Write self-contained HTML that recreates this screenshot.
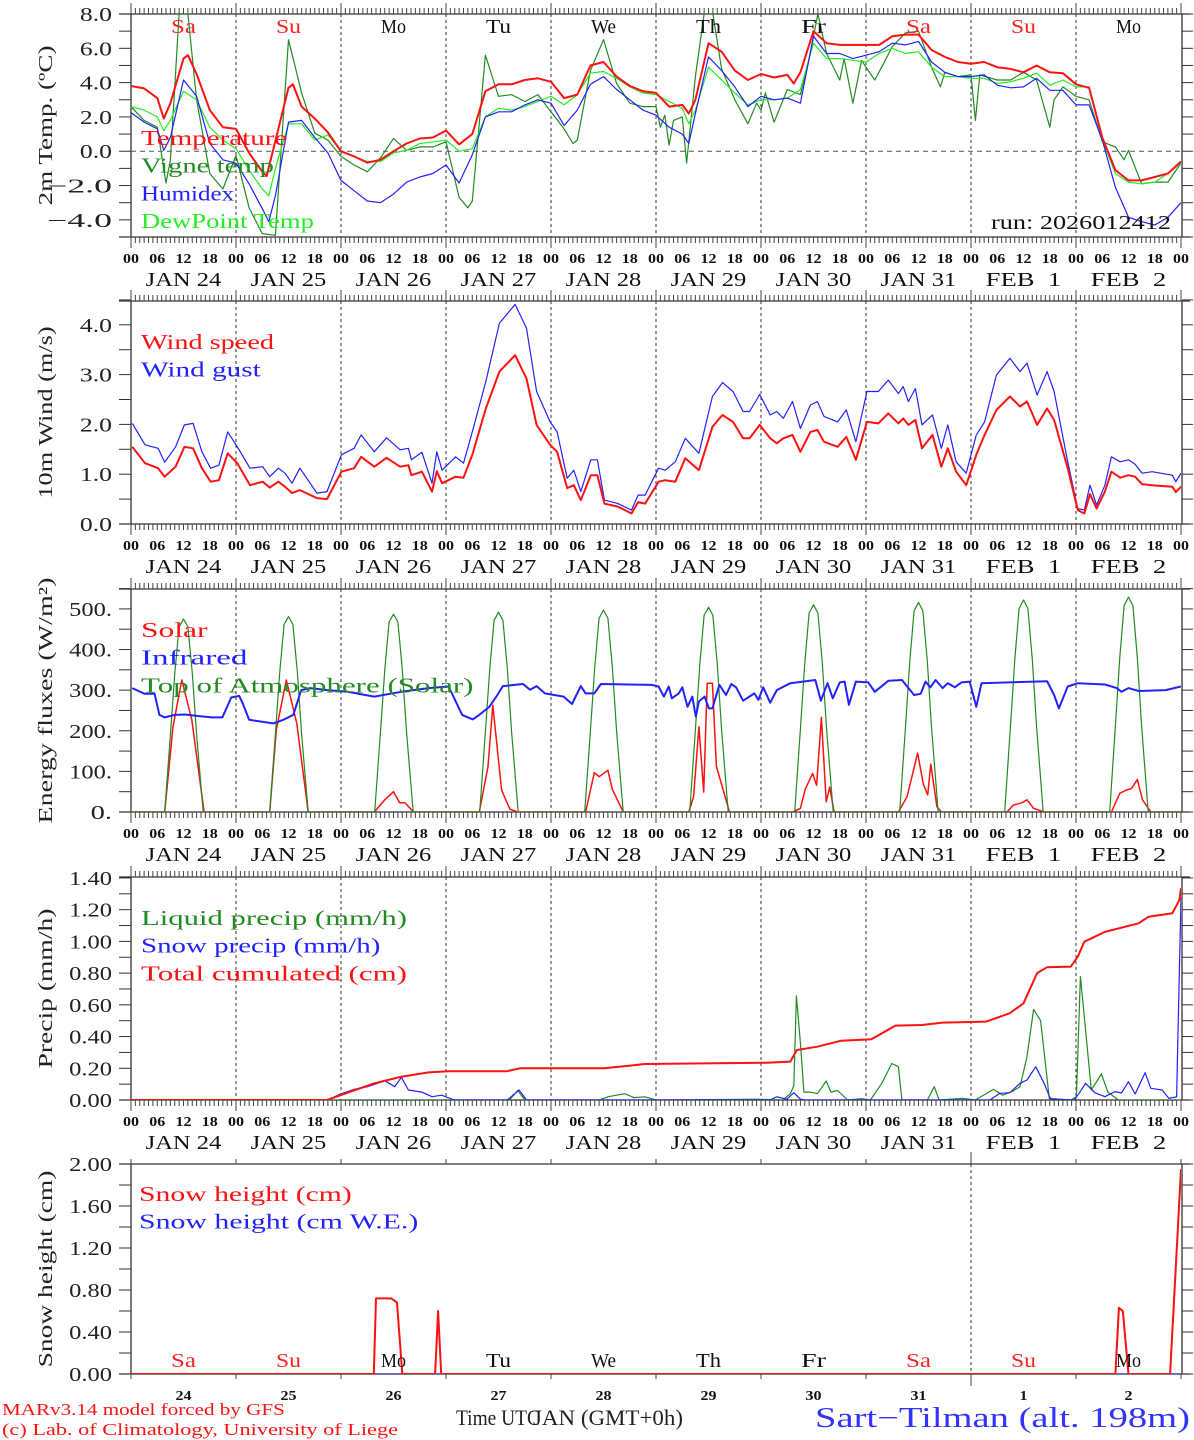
<!DOCTYPE html>
<html><head><meta charset="utf-8"><title>MAR forecast Sart-Tilman</title>
<style>
html,body{margin:0;padding:0;background:#fff;}
svg{display:block;font-family:"Liberation Serif","DejaVu Serif",serif;}
</style></head>
<body>
<svg id="chart" xmlns="http://www.w3.org/2000/svg" width="1194" height="1440" viewBox="0 0 1194 1440"></svg>
<script>
// ---------------- DATA ----------------
const dayLabels = ["JAN 24","JAN 25","JAN 26","JAN 27","JAN 28","JAN 29","JAN 30","JAN 31","FEB  1","FEB  2"];
const dayShort = ["24","25","26","27","28","29","30","31","1","2"];
const weekdays = ["Sa","Su","Mo","Tu","We","Th","Fr","Sa","Su","Mo"];
const hourLabels = ["00","06","12","18"];

const tempHours = [0,3,6,7.5,9,12,13,15,18,21,24,27,30,31,33,36,37,39,42,45,48,51,54,57,60,63,66,69,72,75,78,81,84,87,90,93,96,99,102,105,108,111,114,117,120,123,126,127.5,129,132,135,138,141,144,147,150,151.5,153,156,159,162,165,168,171,174,177,180,183,186,189,192,195,198,201,204,207,210,213,216,219,222,225,228,231,234,237,240];
const tempValues = [3.8,3.66,3.1,1.9,2.8,5.4,5.6,4.5,2.4,1.4,1.3,-0.1,-1.2,-1.45,0.6,3.7,3.9,2.6,1.9,1.1,0,-0.3,-0.66,-0.5,0,0.45,0.74,0.8,1.2,0.4,1.0,3.5,3.9,3.9,4.15,4.25,4.05,3.1,3.3,5.0,5.2,4.35,3.8,3.5,3.4,2.6,2.7,2.2,3.0,6.3,5.8,4.7,4.15,4.5,4.3,4.45,3.95,4.6,7.0,6.3,6.2,6.2,6.2,6.2,6.7,6.8,6.8,5.9,5.5,5.2,5.1,5.2,4.9,4.8,4.6,5.0,4.6,4.55,3.9,3.7,0.8,-1.1,-1.7,-1.7,-1.5,-1.3,-0.6];

const vigneHours = [0,3,6,8,9,11,13,15,18,21,24,27,30,33,36,39,42,45,48,51,54,57,60,63,66,69,72,75,77,78,81,84,87,90,93,96,99,101,102,105,108,111,114,117,120,121,122,123,124,126,127,129,131,133,135,138,141,143,144,145,147,150,153,155,157,159,162,163,165,167,168,170,172,174,177,180,183,185,186,189,192,193,194,198,201,204,207,210,211,213,216,219,222,225,227,228,231,234,237,240];
const vigneValues = [2.6,1.8,1.4,-1.85,-0.5,8.0,8.0,3.0,-1.3,-2.2,-0.25,-3.3,-4.8,-4.9,6.5,3.4,1.05,0.65,-0.3,-0.8,-1.2,-0.4,0.75,0.05,0.25,0.25,0.55,-2.7,-3.3,-2.9,5.6,3.2,3.3,2.9,3.3,2.3,1.3,0.45,0.65,4.7,6.5,3.95,2.8,2.6,2.6,1.4,2.1,0.35,1.8,2.0,-0.7,4.35,8.0,8.0,4.8,3.0,1.6,2.8,2.4,3.4,1.7,3.6,3.3,5.4,8.0,5.7,4.15,5.4,2.8,5.3,4.9,4.15,5.1,6.1,6.9,7.0,4.9,3.75,4.6,4.35,4.45,1.8,4.45,4.15,4.15,4.6,4.15,1.4,3.0,3.75,3.2,3.0,0.55,0.25,-0.5,0.05,-1.9,-1.8,-1.8,-0.7];

const gridHours = [0,3,6,7.5,9,12,15,18,21,24,27,30,31.5,33,36,39,42,45,48,51,54,57,60,63,66,69,72,75,78,81,84,87,90,93,96,99,102,105,108,111,114,117,120,123,126,127.5,129,132,135,138,141,144,147,150,153,156,159,162,165,168,171,174,177,180,183,186,189,192,195,198,201,204,207,210,213,216,219,222,225,228,231,234,237,240];
const humidexValues = [2.25,1.7,1.3,0.05,0.8,4.15,3.2,0.45,-0.5,-0.7,-1.9,-3.35,-4.1,-2.6,1.7,1.8,0.8,-0.1,-1.7,-2.3,-2.9,-3.0,-2.5,-1.8,-1.5,-1.3,-0.8,-1.85,-0.2,2.0,2.3,2.3,2.7,3.0,2.8,1.5,2.4,3.9,4.35,3.6,3.0,2.4,2.1,1.4,1.0,0.45,2.2,5.5,4.7,3.75,2.6,3.2,3.0,3.1,2.8,6.7,5.7,5.7,5.4,5.6,5.8,6.3,6.2,6.4,5.2,4.6,4.35,4.35,4.45,3.85,3.7,3.75,4.25,3.55,3.55,2.7,2.7,0.65,-2.1,-3.85,-4.1,-4.3,-3.85,-3.0];
const dewValues = [2.6,2.4,2.0,1.2,1.8,3.5,3.0,1.4,0.65,0.15,-1.1,-2.2,-2.6,-1.0,1.6,1.6,0.65,0.95,0,-0.3,-0.6,-0.6,-0.1,0.05,0.45,0.55,0.65,0,0.15,2.0,2.5,2.4,2.6,2.9,3.2,2.7,3.3,4.55,4.65,4.25,3.75,3.4,3.3,2.9,2.5,1.6,2.4,4.9,4.15,3.4,2.7,3.0,3.0,3.1,3.6,6.3,5.4,5.4,5.3,5.2,5.7,6.0,5.7,5.8,4.9,4.35,4.35,4.25,4.25,3.95,4.05,4.25,4.55,3.85,4.15,3.75,3.75,0.65,-1.3,-1.8,-1.9,-1.8,-1.3,-0.7];

const windHours = [0.3,3.2,6.2,7.7,10.2,12.2,14.2,16.2,18.2,20.1,22.1,24.3,27.2,30.1,31.7,33.7,35.2,36.8,38.6,42.5,44.8,48.1,51,52.6,55.6,58.4,61.5,63.4,64.1,66.5,68.8,69.9,71.1,74.2,76,78,81.1,84.2,87.8,90.4,92.7,95.8,97.4,99.7,101.2,102.8,105.1,106.6,108.2,111.3,114.4,115.9,117.5,120.6,122.1,124.4,126.7,129.8,132.9,135.2,137.6,139.9,141.4,143.7,146.1,147.6,149.1,151.2,153,155.3,156.9,158.4,161.5,163.5,165.7,168.2,170.8,173.1,175.4,176.5,177.7,179.3,180.8,183.2,185.2,186.7,188.6,190.9,193.2,195.1,197.8,200.9,203.2,204.8,207.1,209.4,211,214.1,216.4,217.9,219.2,220.7,222.6,224.1,226.1,228,229.5,231.1,233.4,238,238.8,240];
const windSpeed = [1.55,1.22,1.12,0.95,1.15,1.55,1.52,1.12,0.85,0.88,1.42,1.22,0.78,0.85,0.73,0.85,0.75,0.62,0.68,0.52,0.50,1.05,1.12,1.35,1.15,1.33,1.15,1.18,0.98,1.05,0.65,1.06,0.82,0.95,0.93,1.39,2.32,3.06,3.39,2.92,1.99,1.59,1.45,0.72,0.78,0.48,0.98,0.98,0.41,0.35,0.21,0.44,0.41,0.85,0.88,0.85,1.32,1.08,1.95,2.19,2.05,1.72,1.72,1.99,1.72,1.62,1.72,1.79,1.45,1.85,1.89,1.65,1.55,1.75,1.29,2.05,2.02,2.22,2.02,2.12,1.99,2.09,1.52,1.79,1.15,1.52,1.05,0.78,1.39,1.79,2.29,2.56,2.36,2.46,1.99,2.32,2.09,1.12,0.28,0.21,0.6,0.31,0.65,1.05,0.93,0.98,0.95,0.8,0.78,0.75,0.64,0.75];
const windGust = [2.02,1.59,1.52,1.24,1.55,1.99,2.02,1.45,1.12,1.18,1.85,1.55,1.12,1.15,0.95,1.12,1.02,0.82,1.12,0.62,0.65,1.39,1.52,1.79,1.45,1.73,1.49,1.52,1.29,1.44,0.82,1.45,1.08,1.35,1.22,1.85,2.86,4.03,4.41,3.93,2.66,2.05,1.85,0.92,1.08,0.65,1.29,1.29,0.48,0.41,0.28,0.58,0.58,1.12,1.08,1.25,1.72,1.42,2.56,2.84,2.66,2.26,2.26,2.6,2.19,2.26,2.12,2.46,1.92,2.39,2.46,2.16,2.05,2.29,1.65,2.66,2.66,2.89,2.62,2.76,2.46,2.72,1.99,2.19,1.52,1.99,1.25,1.02,1.79,2.05,2.99,3.33,3.06,3.23,2.59,3.06,2.66,1.25,0.31,0.28,0.78,0.38,0.78,1.35,1.25,1.29,1.2,1.02,1.05,0.98,0.85,1.02];

const toaDayHours = [7.7,9,10,11,12,13,14,15,16.5];
const toaValues = [
 [0,190,342,456,475,456,342,190,0],
 [0,192,346,462,481,462,346,192,0],
 [0,195,351,468,487,468,351,195,0],
 [0,197,354,472,492,472,354,197,0],
 [0,199,358,477,497,477,358,199,0],
 [0,202,363,484,504,484,363,202,0],
 [0,204,367,490,510,490,367,204,0],
 [0,206,372,495,516,495,372,206,0],
 [0,209,376,501,522,501,376,209,0],
 [0,212,381,508,529,508,381,212,0]];

const solarHours = [0,7.7,9.6,11.6,13.9,16.7,31.7,33.2,35.5,37.9,40.5,55.6,58,60,61.4,62.6,64.6,79.6,81.6,82.7,84.7,86.6,88.4,103.9,105.9,107,109,110,112.5,127.5,128.6,129.8,130.9,131.7,132.9,133.8,136.8,151.2,153,154.1,155.8,156.7,157.8,158.9,159.7,160.7,175.4,177.4,179.8,181.1,182.1,182.8,184.2,185.2,200.2,201.7,203.7,204.8,206.3,208.7,224.1,226,227.5,228.7,230,231.2,233.1,240];
const solarValues = [0,0,210,325,227,0,0,202,325,218,0,0,30,50,23,23,0,0,112,263,54,7,0,0,97,87,103,56,0,0,38,210,49,317,317,112,0,0,9,56,95,66,233,25,61,0,0,38,145,69,42,118,13,0,0,17,23,30,9,0,0,46,54,58,80,30,0,0];

const irHours = [0.3,3.1,5.4,6.5,7.7,10,12.4,15.5,18.5,20.9,22.9,24.7,25.5,27,29.4,32.5,34.8,37.1,38.9,41,44.8,49.5,55.6,61.8,68,72.6,75.7,78.1,79.6,81.9,83.5,85,89.6,91.2,92.7,94.6,98.9,100.8,102.8,103.9,105.9,107.4,119,120.6,121.8,122.9,123.6,125.2,126,127.2,128.3,129.1,129.8,131.1,132.1,132.9,134.5,136,137.2,138.3,139.9,142.5,143.4,144.5,146.1,147.6,150.7,156.4,157.7,159.2,160.4,162,163.1,164.1,165.7,168.5,170,173.1,176.2,179,180.5,181.6,182.7,183.9,185.5,186.7,188.3,189.8,191.7,193.2,194.4,209.4,211,212.1,214.1,216.4,222.6,225.3,226.4,228,230.3,236.5,240];
const irValues = [305,291,291,239,233,239,240,236,233,233,282,286,268,227,223,218,227,239,300,305,300,296,284,296,305,309,239,228,239,259,284,310,315,301,310,292,284,266,310,292,292,315,313,309,284,309,280,292,307,259,284,235,272,284,255,255,313,288,315,307,274,292,276,307,269,300,317,325,274,317,280,319,321,264,321,319,296,323,325,288,291,321,307,325,305,317,307,319,321,259,317,322,288,255,309,317,314,305,296,305,298,300,309];

const liquidHours = [0,86.5,88.4,90,107,109,112.8,115,117.5,120,143,149,150.7,151.5,152.1,153,153.8,155.3,156.9,158.9,160,161.5,163.8,167,169,171.6,173.9,175.4,176.2,182,183.6,184.7,190,193,197.1,199.3,201.7,203.2,204.8,206.3,207.9,209.9,214.8,216.1,217,217.9,219.5,221.8,223.3,225.7,240];
const liquidValues = [0,0,0.06,0,0,0.02,0.04,0.015,0.02,0,0.005,0,0.04,0.09,0.656,0.36,0.05,0.05,0.04,0.12,0.05,0.06,0,0.008,0,0.105,0.23,0.21,0,0,0.084,0,0.01,0,0.067,0.03,0.058,0.084,0.273,0.572,0.5,0.01,0,0.02,0.778,0.525,0.063,0.164,0.05,0,0];
const snowPrecipHours = [0,44.8,47.9,51,54.1,58,60.3,61.8,63.4,66.5,68.8,71,73.9,86,88.7,90.4,146,147.6,149.9,151.5,153,154,196.3,198.6,200.9,203.2,204.8,206.8,208.7,210.2,215.6,216.7,218.2,220.3,222.6,224.9,226.4,228,229.5,231.8,233.1,235.7,237.2,239,240];
const snowPrecipValues = [0,0,0.038,0.067,0.084,0.122,0.084,0.143,0.063,0.05,0.021,0.03,0,0,0.063,0,0,0.02,0.005,0.046,0.005,0,0,0.042,0.046,0.105,0.126,0.21,0.105,0.005,0,0.042,0.105,0.046,0.021,0.053,0.045,0.116,0.038,0.172,0.074,0.063,0.01,0.02,1.28];
const cumHours = [0,44.8,49.5,55.6,61.8,68,72.6,85.8,88.9,108.2,117.5,145.3,150.7,152.2,156.9,162.3,169.2,171.6,174.7,180.8,185.5,195.5,200.9,204,207.1,209.4,214.8,216.4,217.9,222.6,230.3,232.6,238,239.6,240];
const cumValues = [0,0,0.046,0.105,0.147,0.174,0.181,0.181,0.2,0.2,0.227,0.235,0.242,0.315,0.336,0.374,0.383,0.42,0.469,0.473,0.488,0.494,0.547,0.61,0.8,0.837,0.841,0.904,0.998,1.06,1.114,1.156,1.177,1.26,1.335];

const snowHeightHours = [0,55.5,56,59.5,60.8,62,69.5,70.2,70.9,225,225.8,226.7,228,237.5,240];
const snowHeightValues = [0,0,0.72,0.72,0.68,0,0,0.6,0,0,0.63,0.6,0,0,1.95];
const snowWEHours = [0,240];
const snowWEValues = [0,0];

// ---------------- DRAWING ----------------
const NS = "http://www.w3.org/2000/svg";
const svg = document.getElementById("chart");
const L = 131, R = 1181;
function xScale(h){ return L + h * (R - L) / 240; }
function yScaleFor(p){ return v => p.bottom - (v - p.min) * (p.bottom - p.top) / (p.max - p.min); }

function mk(tag, attrs, parent, name){
  const el = document.createElementNS(NS, tag);
  for (const k in attrs) el.setAttribute(k, attrs[k]);
  
  
  (parent || svg).appendChild(el);
  return el;
}
function txt(s, x, y, attrs, parent, name, charW){
  const a = Object.assign({x:x, y:y}, attrs);
  if (charW) { a.textLength = (s.length * charW).toFixed(1); a.lengthAdjust = 'spacingAndGlyphs'; }
  const t = mk('text', a, parent, name);
  t.textContent = s;
  return t;
}

const panels = [
  {id:'temp', top:14, bottom:237, min:-5, max:8, minor:1, major:2, fmt:v=>(v<0?'\u2212':'')+Math.abs(v).toFixed(1), title:'2m Temp. (\u00baC)', hourAxis:true},
  {id:'wind', top:301, bottom:524, min:0, max:4.478, minor:0.5, major:1, fmt:v=>v.toFixed(1), title:'10m Wind (m/s)', hourAxis:true},
  {id:'energy', top:589, bottom:812, min:0, max:549, minor:50, major:100, fmt:v=>v.toFixed(0)+'.', title:'Energy fluxes (W/m\u00b2)', hourAxis:true},
  {id:'precip', top:877, bottom:1100, min:0, max:1.406, minor:0.1, major:0.2, fmt:v=>v.toFixed(2), title:'Precip (mm/h)', hourAxis:true},
  {id:'snow', top:1164, bottom:1374, min:0, max:2.0, minor:0.2, major:0.4, fmt:v=>v.toFixed(2), title:'Snow height (cm)', hourAxis:false}
];

panels.forEach(p => {
  const g = mk('g', {}, svg, p.id + '-panel');
  p.g = g;
  p.y = yScaleFor(p);
  const clipId = 'clip-' + p.id;
  const cp = mk('clipPath', {id:clipId}, svg, p.id + '-clip');
  mk('rect', {x:L, y:p.top, width:R-L, height:p.bottom-p.top}, cp, p.id + '-clip-rect');
  p.clip = 'url(#' + clipId + ')';

  for (let d = 1; d < 10; d++){
    if (p.id === 'snow' && d !== 8) continue;
    mk('line', {x1:xScale(d*24), x2:xScale(d*24), y1:p.top, y2:p.bottom, stroke:'#333', 'stroke-width':1, 'stroke-dasharray':'3,3'}, g, 'day-separator');
  }
  mk('line', {x1:119, x2:1190, y1:p.top, y2:p.top, stroke:'#333', 'stroke-width':1.3}, g, p.id + '-top-border');
  mk('line', {x1:119, x2:1190, y1:p.bottom, y2:p.bottom, stroke:'#333', 'stroke-width':1.3}, g, p.id + '-x-axis');
  mk('line', {x1:L, x2:L, y1:p.top, y2:p.bottom, stroke:'#333', 'stroke-width':1.3}, g, p.id + '-y-axis');
  mk('line', {x1:R+1, x2:R+1, y1:p.top, y2:p.bottom, stroke:'#333', 'stroke-width':1.3}, g, p.id + '-right-axis');

  const nMinor = Math.round((p.max - p.min) / p.minor + 1e-6);
  for (let i = 0; i <= nMinor; i++){
    const v = p.min + i * p.minor;
    const yy = p.y(v);
    mk('line', {x1:119, x2:L, y1:yy, y2:yy, stroke:'#333', 'stroke-width':1}, g, 'y-tick');
    mk('line', {x1:R+1, x2:R+12, y1:yy, y2:yy, stroke:'#333', 'stroke-width':1}, g, 'y-tick-right');
  }
  const firstMajor = Math.ceil(p.min / p.major - 1e-6) * p.major;
  for (let v = firstMajor; v <= p.max + 1e-6; v += p.major){
    const vv = Math.round(v*100)/100;
    const s = p.fmt(vv);
    txt(s, 112, p.y(vv) + 7, {'font-size':20, 'text-anchor':'end', fill:'#222'}, g, 'y-tick-label', s.charAt(0) === '\u2212' ? 16.2 : 10.7);
  }
  const cy = (p.top + p.bottom) / 2;
  txt(p.title, 52, cy, {'font-size':20, 'text-anchor':'middle', fill:'#222', transform:'rotate(-90 52 ' + cy + ')'}, g, p.id + '-y-axis-title', 12.3);

  if (p.hourAxis){
    for (let h = 0; h <= 240; h++){
      const xx = xScale(h);
      const isDay = h % 24 === 0;
      mk('line', {x1:xx, x2:xx, y1:p.top, y2:p.top - (isDay ? 11 : 6), stroke:'#444', 'stroke-width':1}, g, 'x-tick-top');
      mk('line', {x1:xx, x2:xx, y1:p.bottom, y2:p.bottom + (isDay ? 11 : 6), stroke:'#444', 'stroke-width':1}, g, 'x-tick-bottom');
    }
    for (let d = 0; d <= 10; d++){
      for (let k = 0; k < 4; k++){
        if (d === 10 && k > 0) break;
        txt(hourLabels[k], xScale(d*24 + k*6), p.bottom + 26, {'font-size':14, 'text-anchor':'middle', fill:'#111', 'font-weight':'bold'}, g, 'hour-label', 8);
      }
      if (d < 10) txt(dayLabels[d], xScale(d*24 + 12), p.bottom + 49, {'font-size':20, 'text-anchor':'middle', fill:'#111', 'xml:space':'preserve', style:'white-space:pre'}, g, 'date-label', 12.6);
    }
  } else {
    for (let d = 0; d <= 10; d++){
      const xx = xScale(d*24);
      mk('line', {x1:xx, x2:xx, y1:p.top, y2:p.top - (d===8 ? 12 : 5), stroke:'#444', 'stroke-width':1}, g, 'x-tick-top');
      mk('line', {x1:xx, x2:xx, y1:p.bottom, y2:p.bottom + (d===8 ? 12 : 5), stroke:'#444', 'stroke-width':1}, g, 'x-tick-bottom');
      if (d < 10) txt(dayShort[d], xScale(d*24 + 12), p.bottom + 26, {'font-size':14, 'text-anchor':'middle', fill:'#111', 'font-weight':'bold'}, g, 'day-number-label', 8);
    }
  }
});

function series(p, hours, values, color, width, name){
  let d = '';
  for (let i = 0; i < hours.length; i++){
    d += (i ? 'L' : 'M') + xScale(hours[i]).toFixed(1) + ',' + p.y(values[i]).toFixed(1);
  }
  return mk('path', {d:d, fill:'none', stroke:color, 'stroke-width':width, 'stroke-linejoin':'round', 'clip-path':p.clip}, p.g, name);
}
function legend(p, items, x, y0){
  items.forEach((it, i) => {
    txt(it[0], x, y0 + i*27.7, {'font-size':21, fill:it[1]}, p.g, 'legend-entry', 13.3);
  });
}
const [PT, PW, PE, PP, PS] = panels;

mk('line', {x1:L, x2:R, y1:PT.y(0), y2:PT.y(0), stroke:'#555', 'stroke-width':1, 'stroke-dasharray':'5,4'}, PT.g, 'zero-line');
series(PT, vigneHours, vigneValues, '#228b22', 1.2, 'vigne-temp-line');
series(PT, gridHours, dewValues, '#22ee22', 1.2, 'dewpoint-line');
series(PT, gridHours, humidexValues, '#2222ff', 1.2, 'humidex-line');
series(PT, tempHours, tempValues, '#ff1111', 2, 'temperature-line');
legend(PT, [['Temperature','#ff1111'],['Vigne temp','#228b22'],['Humidex','#2222ff'],['DewPoint Temp','#22ee22']], 141, 145);
weekdays.forEach((w, d) => {
  txt(w, xScale(d*24 + 12), 33, {'font-size':20, 'text-anchor':'middle', fill:(w==='Sa'||w==='Su') ? '#ff2222' : '#111'}, PT.g, 'weekday-label', 12.5);
});
txt('run: 2026012412', 991, 229, {'font-size':20, fill:'#111'}, PT.g, 'run-label', 12);

series(PW, windHours, windGust, '#2222ff', 1.2, 'wind-gust-line');
series(PW, windHours, windSpeed, '#ff1111', 2, 'wind-speed-line');
legend(PW, [['Wind speed','#ff1111'],['Wind gust','#2222ff']], 141, 349);

let toaH = [0], toaV = [0];
toaValues.forEach((arr, d) => { toaDayHours.forEach((hh, i) => { toaH.push(d*24 + hh); toaV.push(arr[i]); }); });
toaH.push(240); toaV.push(0);
series(PE, solarHours, solarValues, '#ff1111', 1.5, 'solar-line');
series(PE, toaH, toaV, '#228b22', 1.2, 'toa-solar-line');
series(PE, irHours, irValues, '#2222ff', 2, 'infrared-line');
legend(PE, [['Solar','#ff1111'],['Infrared','#2222ff'],['Top of Atmosphere (Solar)','#228b22']], 141, 637);

series(PP, liquidHours, liquidValues, '#228b22', 1.2, 'liquid-precip-line');
series(PP, snowPrecipHours, snowPrecipValues, '#2222ff', 1.2, 'snow-precip-line');
series(PP, cumHours, cumValues, '#ff1111', 2, 'cumulated-precip-line');
legend(PP, [['Liquid precip (mm/h)','#228b22'],['Snow precip (mm/h)','#2222ff'],['Total cumulated (cm)','#ff1111']], 141, 925);

series(PS, snowWEHours, snowWEValues, '#2222ff', 1.2, 'snow-we-line');
series(PS, snowHeightHours, snowHeightValues, '#ff1111', 2, 'snow-height-line');
legend(PS, [['Snow height (cm)','#ff1111'],['Snow height (cm W.E.)','#2222ff']], 139, 1201);
weekdays.forEach((w, d) => {
  txt(w, xScale(d*24 + 12), 1367, {'font-size':20, 'text-anchor':'middle', fill:(w==='Sa'||w==='Su') ? '#ff2222' : '#111'}, PS.g, 'weekday-label', 12.5);
});

txt('MARv3.14 model forced by GFS', 2, 1415, {'font-size':17, fill:'#ff1111'}, svg, 'model-credit', 10.1);
txt('(c) Lab. of Climatology, University of Liege', 2, 1435, {'font-size':17, fill:'#ff1111'}, svg, 'lab-credit', 9.0);
txt('Time UTC', 456, 1425, {'font-size':22, fill:'#222'}, svg, 'x-axis-title', 10.5);
txt('JAN (GMT+0h)', 533, 1425, {'font-size':22, fill:'#222'}, svg, 'x-axis-subtitle', 12.5);
txt('Sart\u2212Tilman (alt. 198m)', 815, 1427, {'font-size':28, fill:'#3333ff', textLength:375, lengthAdjust:'spacingAndGlyphs'}, svg, 'station-title');
</script>
</body></html>
